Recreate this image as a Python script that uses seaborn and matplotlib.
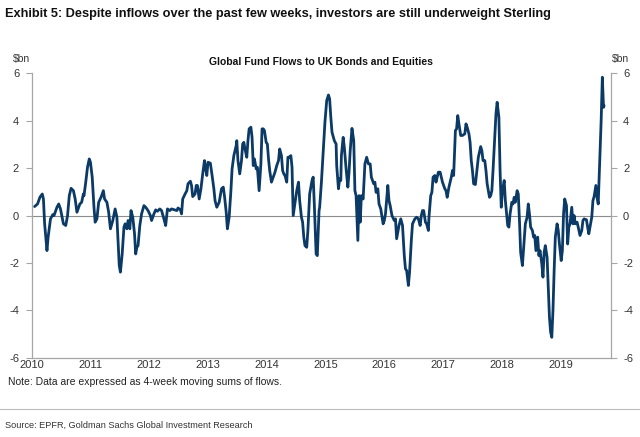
import numpy as np
import pandas as pd
import matplotlib
matplotlib.use("Agg")
import matplotlib.pyplot as plt
import seaborn as sns

# 4-week moving sums of fund flows, $bn
dates = [2010.05, 2010.10, 2010.14, 2010.18, 2010.20, 2010.22, 2010.26, 2010.28, 2010.32, 2010.36,
         2010.38, 2010.43, 2010.46, 2010.49, 2010.54, 2010.58, 2010.61, 2010.64, 2010.67, 2010.71,
         2010.74, 2010.77, 2010.79, 2010.82, 2010.85, 2010.88, 2010.89, 2010.92, 2010.95, 2010.98,
         2011.00, 2011.03, 2011.06, 2011.08, 2011.11, 2011.14, 2011.18, 2011.22, 2011.24, 2011.28,
         2011.31, 2011.34, 2011.38, 2011.42, 2011.45, 2011.47, 2011.49, 2011.51, 2011.54, 2011.57,
         2011.59, 2011.62, 2011.64, 2011.67, 2011.69, 2011.72, 2011.75, 2011.77, 2011.79, 2011.81,
         2011.84, 2011.87, 2011.91, 2011.94, 2011.98, 2012.02, 2012.04, 2012.08, 2012.11, 2012.14,
         2012.18, 2012.21, 2012.25, 2012.28, 2012.31, 2012.35, 2012.38, 2012.43, 2012.47, 2012.49,
         2012.53, 2012.55, 2012.57, 2012.61, 2012.64, 2012.66, 2012.70, 2012.72, 2012.74, 2012.78,
         2012.80, 2012.82, 2012.85, 2012.88, 2012.91, 2012.94, 2012.96, 2012.98, 2013.00, 2013.04,
         2013.07, 2013.10, 2013.12, 2013.15, 2013.19, 2013.23, 2013.26, 2013.28, 2013.31, 2013.33,
         2013.36, 2013.39, 2013.41, 2013.44, 2013.48, 2013.49, 2013.51, 2013.54, 2013.57, 2013.59,
         2013.61, 2013.63, 2013.66, 2013.68, 2013.70, 2013.73, 2013.75, 2013.77, 2013.79, 2013.82,
         2013.84, 2013.87, 2013.90, 2013.92, 2013.94, 2013.96, 2013.99, 2014.01, 2014.03, 2014.05,
         2014.08, 2014.11, 2014.14, 2014.17, 2014.20, 2014.22, 2014.25, 2014.27, 2014.29, 2014.31,
         2014.34, 2014.36, 2014.38, 2014.41, 2014.43, 2014.45, 2014.47, 2014.51, 2014.54, 2014.56,
         2014.59, 2014.61, 2014.63, 2014.65, 2014.68, 2014.70, 2014.73, 2014.77, 2014.79, 2014.81,
         2014.84, 2014.86, 2014.89, 2014.90, 2014.93, 2014.96, 2014.99, 2015.02, 2015.05, 2015.07,
         2015.09, 2015.11, 2015.15, 2015.18, 2015.19, 2015.22, 2015.24, 2015.26, 2015.27, 2015.30,
         2015.32, 2015.35, 2015.38, 2015.40, 2015.42, 2015.45, 2015.48, 2015.50, 2015.52, 2015.55,
         2015.57, 2015.59, 2015.61, 2015.64, 2015.67, 2015.70, 2015.73, 2015.76, 2015.78, 2015.82,
         2015.84, 2015.86, 2015.89, 2015.91, 2015.94, 2015.98, 2016.00, 2016.02, 2016.06, 2016.08,
         2016.10, 2016.13, 2016.17, 2016.19, 2016.21, 2016.25, 2016.28, 2016.31, 2016.34, 2016.36,
         2016.38, 2016.41, 2016.43, 2016.46, 2016.48, 2016.52, 2016.55, 2016.58, 2016.61, 2016.63,
         2016.65, 2016.67, 2016.70, 2016.72, 2016.75, 2016.76, 2016.79, 2016.81, 2016.83, 2016.86,
         2016.88, 2016.90, 2016.92, 2016.95, 2016.97, 2016.99, 2017.03, 2017.05, 2017.07, 2017.10,
         2017.14, 2017.16, 2017.18, 2017.21, 2017.23, 2017.25, 2017.27, 2017.30, 2017.33, 2017.37,
         2017.39, 2017.41, 2017.44, 2017.46, 2017.48, 2017.50, 2017.52, 2017.55, 2017.57, 2017.60,
         2017.64, 2017.66, 2017.68, 2017.71, 2017.73, 2017.75, 2017.79, 2017.81, 2017.83, 2017.85,
         2017.88, 2017.90, 2017.92, 2017.95, 2017.97, 2017.99, 2018.01, 2018.04, 2018.06, 2018.08,
         2018.10, 2018.12, 2018.14, 2018.17, 2018.19, 2018.21, 2018.23, 2018.26, 2018.28, 2018.30,
         2018.32, 2018.35, 2018.38, 2018.40, 2018.43, 2018.45, 2018.47, 2018.49, 2018.52, 2018.54,
         2018.56, 2018.58, 2018.61, 2018.63, 2018.65, 2018.68, 2018.70, 2018.72, 2018.74, 2018.77,
         2018.79, 2018.81, 2018.83, 2018.85, 2018.87, 2018.89, 2018.91, 2018.94, 2018.96, 2018.98,
         2019.01, 2019.03, 2019.05, 2019.07, 2019.10, 2019.12, 2019.14, 2019.16, 2019.19, 2019.21,
         2019.23, 2019.25, 2019.28, 2019.30, 2019.33, 2019.36, 2019.38, 2019.40, 2019.44, 2019.46,
         2019.48, 2019.50, 2019.53, 2019.55, 2019.57, 2019.60, 2019.62, 2019.64, 2019.66, 2019.69,
         2019.71, 2019.73, 2019.74]

flows = [0.38, 0.49, 0.77, 0.91, 0.70, -0.34, -1.48, -0.91, -0.14, 0.04,
         0.00, 0.35, 0.49, 0.28, -0.35, -0.42, 0.00, 0.84, 1.15, 1.05,
         0.70, 0.14, 0.28, 0.49, 0.56, 0.91, 0.84, 1.41, 2.04, 2.39,
         2.25, 1.62, 0.35, -0.28, -0.14, 0.56, 0.77, 1.05, 0.70, 0.56,
         0.14, -0.56, -0.21, 0.28, -0.07, -1.05, -2.11, -2.39, -1.62, -0.49,
         -0.35, -0.56, -0.21, -0.56, 0.21, -0.07, -0.77, -1.62, -1.34, -1.27,
         -0.42, 0.07, 0.42, 0.35, 0.21, 0.00, -0.21, 0.07, 0.24, 0.18,
         0.28, 0.21, -0.14, -0.42, 0.28, 0.21, 0.28, 0.24, 0.21, 0.32,
         0.24, 0.07, 0.70, 0.91, 1.05, 1.34, 1.45, 1.27, 0.80, 0.91,
         1.27, 1.27, 0.70, 1.13, 1.76, 2.32, 1.97, 1.69, 2.25, 2.21,
         1.69, 1.13, 0.63, 0.35, 0.56, 1.13, 1.20, 0.84, 0.14, -0.56,
         -0.07, 1.05, 1.97, 2.53, 2.95, 3.16, 2.32, 1.76, 2.32, 3.02,
         3.09, 2.81, 2.46, 3.16, 3.66, 3.73, 3.30, 2.11, 2.39, 1.97,
         2.04, 1.05, 2.18, 3.66, 3.66, 3.59, 3.09, 3.02, 2.39, 1.90,
         1.41, 1.62, 1.83, 2.11, 2.32, 2.81, 2.53, 1.90, 1.76, 1.69,
         1.41, 2.46, 2.46, 2.53, 2.04, 0.00, 0.35, 1.05, 1.41, 0.63,
         -0.07, -0.28, -0.91, -1.27, -1.34, -0.63, 0.91, 1.48, 1.62, 0.42,
         -1.62, -1.69, 0.21, 0.35, 1.41, 2.67, 3.94, 4.85, 5.09, 4.92,
         4.15, 3.52, 3.16, 3.02, 2.11, 1.13, 1.55, 1.48, 2.53, 3.30,
         2.88, 1.97, 1.20, 1.83, 2.74, 3.68, 3.16, 1.05, 0.84, -1.05,
         0.84, -0.28, 0.84, 0.70, 2.18, 2.46, 2.18, 2.18, 1.62, 1.34,
         1.41, 0.98, 1.13, 0.49, 0.28, -0.35, -0.21, 0.07, 1.27, 0.63,
         0.42, 0.00, -0.21, -0.14, -0.98, -0.42, -0.14, -0.42, -1.69, -2.25,
         -2.32, -2.95, -2.39, -1.05, -0.35, -0.14, -0.07, -0.14, -0.42, 0.00,
         0.21, 0.21, -0.28, -0.35, -0.63, -0.07, 0.84, 0.98, 1.62, 1.69,
         1.41, 1.62, 1.83, 1.83, 1.62, 1.41, 1.13, 1.05, 0.77, 1.20,
         1.62, 1.90, 1.69, 3.59, 3.66, 4.22, 3.87, 3.38, 3.38, 3.45,
         3.87, 3.73, 3.45, 3.09, 2.32, 1.90, 1.34, 1.31, 1.76, 2.46,
         2.91, 2.74, 2.32, 2.32, 1.90, 1.34, 0.77, 0.84, 1.05, 1.90,
         3.30, 4.29, 4.78, 4.15, 1.90, 0.35, 1.05, 1.48, 0.63, 0.10,
         -0.42, -0.49, 0.07, 0.56, 0.49, 0.77, 0.56, 1.05, 0.91, -0.21,
         -1.55, -2.11, -1.05, -0.35, -0.07, 0.49, 0.07, -0.49, -0.63, -0.91,
         -0.84, -1.48, -0.91, -1.69, -1.48, -2.04, -2.60, -1.55, -1.27, -1.76,
         -3.02, -4.29, -4.92, -5.14, -4.01, -2.32, -0.91, -0.35, -0.63, -1.20,
         -1.90, -1.48, 0.07, 0.70, 0.42, -1.20, -0.49, -0.35, 0.35, -0.35,
         0.00, -0.35, -0.28, -0.49, -0.84, -0.63, -0.21, -0.14, -0.18, -0.49,
         -0.77, -0.49, -0.07, 0.63, 0.80, 1.27, 0.77, 0.49, 1.90, 4.01,
         5.84, 4.57, 4.64]

years = list(range(2010, 2020))
yticks = [-6, -4, -2, 0, 2, 4, 6]

df = pd.DataFrame({"date": dates, "flow": flows})

sns.set_style("white")
plt.rcParams["font.family"] = ["Liberation Sans", "DejaVu Sans"]
plt.rcParams["axes.unicode_minus"] = False

fig = plt.figure(figsize=(6.4, 4.37), dpi=100)
ax = fig.add_axes([0.0495, 0.1815, 0.9045, 0.6505])

ax.axhline(0, color="#8c8c8c", lw=0.8, zorder=1)
sns.lineplot(data=df, x="date", y="flow", ax=ax, color="#0c3a66", lw=2.0, zorder=3)

ax.set_xlim(2010, 2019.85)
ax.set_ylim(-6, 6)
ax.set_xticks(years)
ax.set_xticklabels([str(y) for y in years])
ax.set_yticks(yticks)
ax.set_yticklabels([str(t) for t in yticks])
ax.set_xlabel("")
ax.set_ylabel("")

grey = "#a6a6a6"
for side in ["left", "right", "bottom"]:
    ax.spines[side].set_color(grey)
    ax.spines[side].set_linewidth(0.9)
ax.spines["top"].set_visible(False)

ax.tick_params(axis="y", which="both", left=True, right=True, labelleft=True, labelright=True,
               direction="out", length=4, width=0.8, color=grey, labelsize=8, labelcolor="#333333", pad=5)
ax.tick_params(axis="x", direction="in", length=3, width=0.8, color=grey, labelsize=8,
               labelcolor="#333333", pad=2)

ax.set_title("Global Fund Flows to UK Bonds and Equities", fontsize=7.5, fontweight="bold",
             color="#111111", pad=6)

fig.text(0.033, 0.865, "\\$bn", fontsize=7.5, color="#333333", ha="center", va="center")
fig.text(0.97, 0.865, "\\$bn", fontsize=7.5, color="#333333", ha="center", va="center")

fig.text(0.008, 0.968, "Exhibit 5: Despite inflows over the past few weeks, investors are still underweight Sterling",
         fontsize=9.2, fontweight="bold", color="#111111", ha="left", va="center")
fig.text(0.012, 0.126, "Note: Data are expressed as 4-week moving sums of flows.",
         fontsize=7.5, color="#222222", ha="left", va="center")
fig.add_artist(plt.Line2D([0, 1], [0.064, 0.064], color="#bbbbbb", lw=0.8, transform=fig.transFigure))
fig.text(0.008, 0.026, "Source: EPFR, Goldman Sachs Global Investment Research",
         fontsize=6.6, color="#333333", ha="left", va="center")

fig.savefig("out.png", dpi=100)
